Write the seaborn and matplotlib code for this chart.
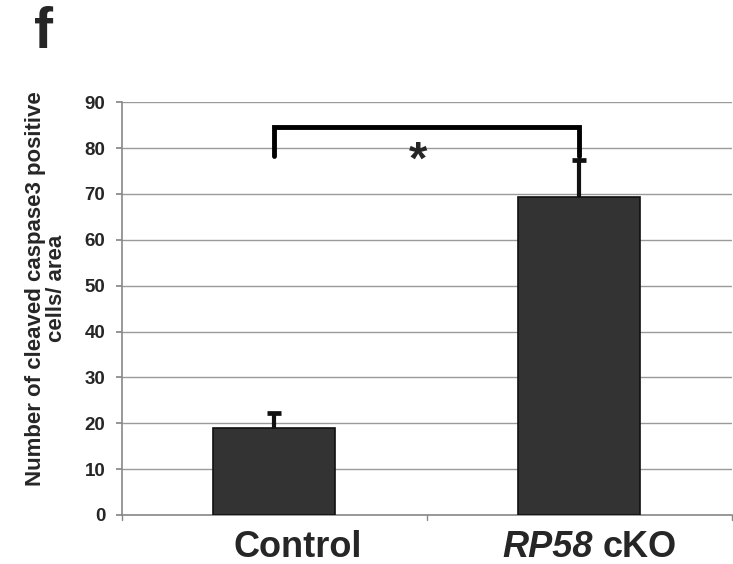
import matplotlib
matplotlib.use("Agg")
import matplotlib.pyplot as plt
import seaborn as sns
import pandas as pd

# Data
groups = ["Control", "RP58 cKO"]
means = [19.0, 69.3]
errors = [3.3, 8.0]
y_ticks = [0, 10, 20, 30, 40, 50, 60, 70, 80, 90]
bracket_y = 84.5
bracket_leg_y = 78.2

sns.set_theme(style="white")
plt.rcParams["font.family"] = ["Liberation Sans", "DejaVu Sans"]
plt.rcParams["font.weight"] = "bold"

fig = plt.figure(figsize=(7.33, 5.64), dpi=100)
ax = fig.add_axes([0.1664, 0.0869, 0.832, 0.732])

df = pd.DataFrame({"group": groups, "value": means})
sns.barplot(data=df, x="group", y="value", color="#333333", width=0.4,
            edgecolor="#111111", linewidth=1.2, saturation=1, ax=ax, zorder=3)

# upper error bars (the lower half sits hidden behind the bars)
xpos = list(range(len(groups)))
ax.errorbar(xpos, means, yerr=[errors, errors], fmt="none",
            ecolor="#111111", elinewidth=3.0, capsize=4.7, capthick=3.4, zorder=2.5)

ax.set_xlim(-0.5, 1.5)
ax.set_ylim(0, 90)
ax.set_yticks(y_ticks)
ax.set_yticklabels([str(t) for t in y_ticks], fontsize=13.5, fontweight="bold")
ax.yaxis.grid(True, color="#9a9a9a", linewidth=1.0, zorder=0)
ax.set_axisbelow(True)

# category labels without tick marks, boundary ticks as dividers
ax.set_xticks(xpos)
ax.set_xticklabels([])
ax.tick_params(axis="x", length=0)
label_kw = dict(xycoords=("data", "axes fraction"), textcoords="offset points",
                va="top", fontsize=26, fontweight="bold")
ax.annotate(groups[0], xy=(0, 0), xytext=(17, -11), ha="center", **label_kw)
name, suffix = groups[1].split(" ")
ax.annotate(name, xy=(1, 0), xytext=(9.4, -11), ha="right", style="italic", **label_kw)
ax.annotate(suffix, xy=(1, 0), xytext=(16.6, -11), ha="left", **label_kw)
for xb in [-0.5, 0.5, 1.5]:
    ax.plot([xb, xb], [0, -1.2], color="#888888", lw=1, clip_on=False)

ax.tick_params(axis="y", length=4, color="#888888", direction="out", left=True, pad=8)
for s in ["top", "right"]:
    ax.spines[s].set_visible(False)
for s in ["left", "bottom"]:
    ax.spines[s].set_color("#888888")
    ax.spines[s].set_linewidth(1.2)
ax.set_xlabel("")
ax.set_ylabel("")
fig.text(0.063, 0.489, "Number of cleaved caspase3 positive\ncells/ area", rotation=90,
         ha="center", va="center", fontsize=16, fontweight="bold",
         multialignment="center", linespacing=1.0)

# significance bracket
ax.plot([0, 0, 1, 1], [bracket_leg_y, bracket_y, bracket_y, bracket_leg_y],
        color="black", lw=3.5, solid_joinstyle="miter", zorder=5)
ax.text(0.47, 74.3, "*", ha="center", va="baseline", fontsize=34, fontweight="bold")

fig.text(0.046, 0.99, "f", fontsize=41, fontweight="bold", va="top")

fig.savefig("out.png", dpi=100)
